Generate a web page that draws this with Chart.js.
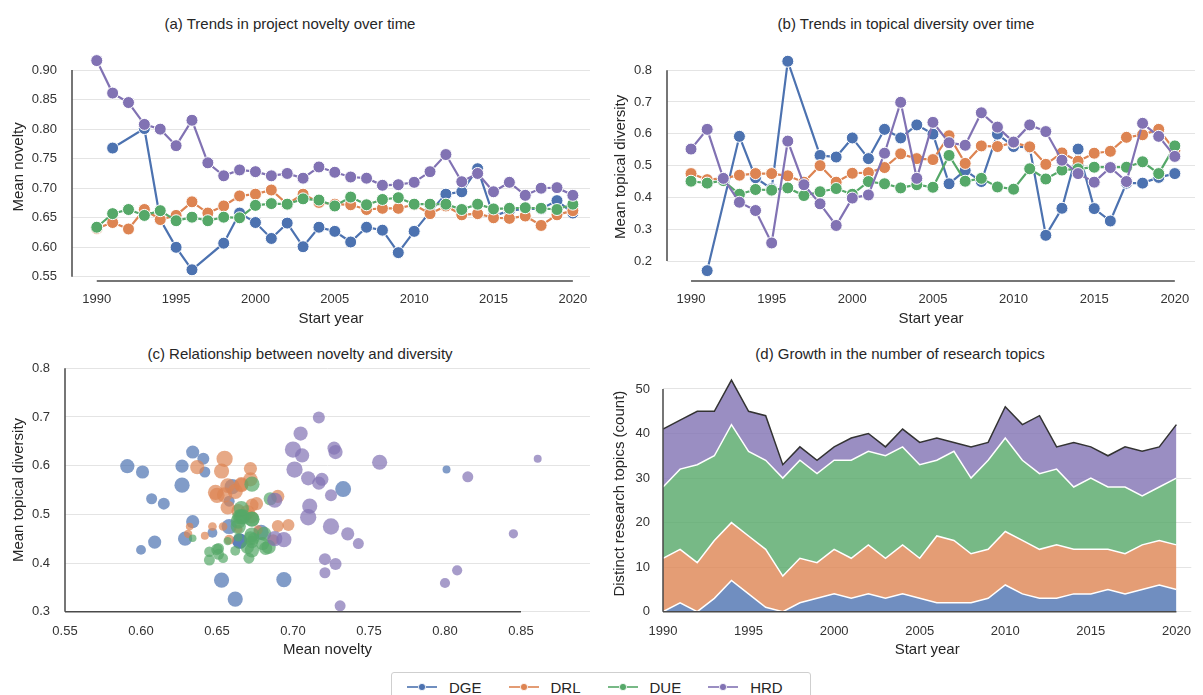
<!DOCTYPE html>
<html>
<head>
<meta charset="utf-8">
<script src="https://cdn.jsdelivr.net/npm/chart.js@4.4.1/dist/chart.umd.min.js"></script>
<style>
  body { margin: 0; width: 1203px; height: 695px; background: #fff; overflow: hidden;
         font-family: "Liberation Sans", Arial, sans-serif; position: relative; }
  canvas { position: absolute; }
  .ptitle { position: absolute; font-size: 15px; color: #262626; white-space: nowrap;
            transform: translate(-50%, -50%); }
  #legend { position: absolute; left: 391px; top: 672px; width: 420px; height: 30px;
            border: 1px solid #cfcfcf; border-radius: 3px; box-sizing: border-box;
            display: flex; align-items: center; padding-left: 15px; font-size: 15px; color: #262626; }
  #legend .item { display: flex; align-items: center; margin-right: 27px; }
  #legend svg { margin-right: 12px; }
</style>
</head>
<body>
<div class="ptitle" style="left:290px;top:23px">(a) Trends in project novelty over time</div>
<div class="ptitle" style="left:906px;top:23px">(b) Trends in topical diversity over time</div>
<div class="ptitle" style="left:300px;top:353px">(c) Relationship between novelty and diversity</div>
<div class="ptitle" style="left:900px;top:353px">(d) Growth in the number of research topics</div>

<canvas id="chartA" width="600" height="320" style="left:0;top:30px"></canvas>
<canvas id="chartB" width="603" height="320" style="left:600px;top:30px"></canvas>
<canvas id="chartC" width="600" height="330" style="left:0;top:340px"></canvas>
<canvas id="chartD" width="603" height="330" style="left:600px;top:340px"></canvas>
<div id="legend"></div>

<script>
const groups = ["DGE", "DRL", "DUE", "HRD"];
const years = [1990, 1991, 1992, 1993, 1994, 1995, 1996, 1997, 1998, 1999, 2000,
  2001, 2002, 2003, 2004, 2005, 2006, 2007, 2008, 2009, 2010,
  2011, 2012, 2013, 2014, 2015, 2016, 2017, 2018, 2019, 2020];

// (a) mean novelty
const noveltyDGE = [null, 0.768, null, 0.801, 0.647, 0.600, 0.562, null, 0.607, 0.658, 0.642,
  0.615, 0.641, 0.601, 0.634, 0.627, 0.609, 0.634, 0.629, 0.591, 0.627,
  0.660, 0.690, 0.694, 0.733, 0.653, 0.662, 0.665, 0.665, 0.679, 0.658];
const noveltyDRL = [0.632, 0.642, 0.631, 0.664, 0.647, 0.654, 0.677, 0.658, 0.670, 0.687, 0.690,
  0.697, 0.673, 0.690, 0.676, 0.673, 0.672, 0.664, 0.666, 0.666, 0.672,
  0.657, 0.670, 0.655, 0.657, 0.650, 0.649, 0.653, 0.637, 0.655, 0.662];
const noveltyDUE = [0.634, 0.657, 0.664, 0.654, 0.662, 0.645, 0.651, 0.645, 0.651, 0.650, 0.671,
  0.674, 0.673, 0.682, 0.680, 0.670, 0.685, 0.672, 0.681, 0.684, 0.673,
  0.673, 0.673, 0.664, 0.673, 0.665, 0.666, 0.667, 0.666, 0.664, 0.673];
const noveltyHRD = [0.916, 0.861, 0.845, 0.808, 0.800, 0.772, 0.815, 0.743, 0.721, 0.731, 0.728,
  0.721, 0.725, 0.717, 0.736, 0.727, 0.719, 0.717, 0.705, 0.706, 0.710,
  0.728, 0.757, 0.711, 0.725, 0.694, 0.710, 0.688, 0.700, 0.701, 0.688];

// (b) mean topical diversity
const diversityDGE = [null, 0.170, null, 0.592, 0.462, 0.427, 0.828, null, 0.532, 0.527, 0.587,
  0.522, 0.614, 0.587, 0.628, 0.599, 0.443, 0.485, 0.450, 0.599, 0.560,
  0.557, 0.281, 0.366, 0.552, 0.365, 0.326, 0.445, 0.445, 0.463, 0.475];
const diversityDRL = [0.475, 0.456, 0.460, 0.470, 0.475, 0.475, 0.468, 0.448, 0.500, 0.448, 0.476,
  0.478, 0.494, 0.537, 0.522, 0.519, 0.594, 0.507, 0.562, 0.560, 0.572,
  0.559, 0.504, 0.540, 0.514, 0.539, 0.545, 0.589, 0.597, 0.614, 0.547];
const diversityDUE = [0.451, 0.445, 0.453, 0.410, 0.425, 0.423, 0.430, 0.406, 0.418, 0.428, 0.410,
  0.450, 0.443, 0.430, 0.440, 0.432, 0.532, 0.451, 0.460, 0.433, 0.426,
  0.490, 0.458, 0.486, 0.490, 0.495, 0.495, 0.495, 0.512, 0.475, 0.562];
const diversityHRD = [0.552, 0.614, 0.460, 0.385, 0.359, 0.257, 0.577, 0.440, 0.380, 0.312, 0.398,
  0.408, 0.539, 0.699, 0.460, 0.636, 0.572, 0.564, 0.666, 0.621, 0.574,
  0.628, 0.607, 0.517, 0.475, 0.448, 0.494, 0.450, 0.633, 0.592, 0.529];

// (c) bubble size variable (projects per year)
const projectsDGE = [null, 10, null, 11, 17, 17, 17, null, 21, 21, 21,
  25, 25, 30, 30, 30, 30, 30, 35, 35, 40, 40, 40, 40, 44, 40, 40, 40, 40, 40, 40];
const projectsDRL = [10, 11, 12, 13, 13, 13, 15, 17, 19, 21, 25,
  25, 27, 30, 30, 30, 30, 33, 35, 35, 35, 38, 38, 40, 35, 40, 40, 40, 35, 46, 40];
const projectsDUE = [10, 12, 13, 17, 17, 19, 21, 21, 21, 23, 21,
  25, 27, 30, 30, 30, 30, 33, 35, 35, 35, 38, 38, 40, 40, 40, 40, 40, 40, 40, 40];
const projectsHRD = [10, 11, 15, 18, 18, 21, 21, 21, 21, 21, 25,
  25, 25, 25, 30, 30, 30, 30, 35, 35, 35, 35, 40, 40, 46, 40, 46, 40, 46, 46, 40];

// (d) distinct research topics
const topicsDGE = [0, 2, 0, 3, 7, 4, 1, 0, 2, 3, 4, 3, 4, 3, 4, 3, 2, 2, 2, 3, 6, 4, 3, 3, 4, 4, 5, 4, 5, 6, 5];
const topicsDRL = [12, 12, 11, 13, 13, 13, 13, 8, 10, 8, 10, 9, 11, 9, 11, 9, 15, 14, 11, 11, 12, 12, 11, 12, 10, 10, 9, 9, 10, 10, 10];
const topicsDUE = [16, 18, 22, 19, 22, 19, 20, 22, 22, 20, 20, 22, 21, 23, 22, 21, 17, 20, 17, 20, 21, 18, 17, 17, 14, 16, 14, 15, 11, 12, 15];
const topicsHRD = [13, 11, 12, 10, 10, 9, 10, 3, 3, 3, 3, 5, 4, 2, 4, 5, 5, 2, 7, 4, 7, 8, 13, 5, 10, 7, 7, 9, 10, 9, 12];

// tick labels
const yearTicks = [1990, 1995, 2000, 2005, 2010, 2015, 2020];
const noveltyTicks = [0.55, 0.60, 0.65, 0.70, 0.75, 0.80, 0.85, 0.90];
const diversityTicks = [0.2, 0.3, 0.4, 0.5, 0.6, 0.7, 0.8];
const scatterXTicks = [0.55, 0.60, 0.65, 0.70, 0.75, 0.80, 0.85];
const scatterYTicks = [0.3, 0.4, 0.5, 0.6, 0.7, 0.8];
const topicTicks = [0, 10, 20, 30, 40, 50];

const colors = ["#4C72B0", "#DD8452", "#55A868", "#8172B3"];
const alpha = (hex, a) => {
  const n = parseInt(hex.slice(1), 16);
  return `rgba(${n >> 16},${(n >> 8) & 255},${n & 255},${a})`;
};

const FONT = '"Liberation Sans", Arial, sans-serif';
Chart.defaults.font.family = FONT;
Chart.defaults.color = "#333";
Chart.defaults.animation = false;

// seaborn-like trimmed spines: run from first to last tick
const trimmedSpines = {
  id: "trimmedSpines",
  afterDatasetsDraw(chart) {
    const { ctx, chartArea, scales: { x, y } } = chart;
    const xt = x.ticks, yt = y.ticks;
    ctx.save();
    ctx.strokeStyle = "#4a4a4a";
    ctx.lineWidth = 1.5;
    ctx.beginPath();
    ctx.moveTo(chartArea.left, y.getPixelForValue(yt[0].value));
    ctx.lineTo(chartArea.left, y.getPixelForValue(yt[yt.length - 1].value));
    ctx.moveTo(x.getPixelForValue(xt[0].value), chartArea.bottom);
    ctx.lineTo(x.getPixelForValue(xt[xt.length - 1].value), chartArea.bottom);
    ctx.stroke();
    ctx.restore();
  },
};

function axes(o) {
  return {
    x: {
      type: "linear", min: o.xmin, max: o.xmax,
      afterBuildTicks: (s) => { s.ticks = o.xticks.map((v) => ({ value: v })); },
      afterFit: (s) => { s.height = o.xh; },
      ticks: { font: { size: 13 }, padding: o.xpad, maxRotation: 0, callback: o.xfmt },
      grid: { display: false, drawTicks: false },
      border: { display: false },
      title: { display: true, text: o.xtitle, font: { size: 15 }, color: "#262626",
               padding: { top: 0, bottom: o.xtpad } },
    },
    y: {
      type: "linear", min: o.ymin, max: o.ymax, stacked: !!o.stacked,
      afterBuildTicks: (s) => { s.ticks = o.yticks.map((v) => ({ value: v })); },
      afterFit: (s) => { s.width = o.yw; },
      ticks: { font: { size: 13 }, padding: o.ypad, callback: o.yfmt },
      grid: { color: "#e4e4e4", lineWidth: 1, drawTicks: false },
      border: { display: false },
      title: { display: true, text: o.ytitle, font: { size: 15 }, color: "#262626",
               padding: { top: o.ytpad, bottom: 0 } },
    },
  };
}

function lineSets(valueLists) {
  return groups.map((g, i) => ({
    label: g,
    data: years.map((yr, k) => ({ x: yr, y: valueLists[i][k] })),
    borderColor: colors[i],
    backgroundColor: colors[i],
    pointBackgroundColor: colors[i],
    pointBorderColor: "#fff",
    pointBorderWidth: 1,
    pointRadius: 6,
    borderWidth: 2.2,
    spanGaps: true,
    clip: false,
    order: 4 - i,
  }));
}

const baseOpts = (pad) => ({
  responsive: false,
  layout: { padding: pad },
  plugins: { legend: { display: false }, tooltip: { enabled: false } },
});

// (a)
new Chart(document.getElementById("chartA"), {
  type: "line",
  data: { datasets: lineSets([noveltyDGE, noveltyDRL, noveltyDUE, noveltyHRD]) },
  options: {
    ...baseOpts({ left: 0, right: 10, top: 10, bottom: 0 }),
    scales: axes({
      xmin: 1988.44, xmax: 2021.08, xticks: yearTicks, xh: 69, xpad: 11,
      xfmt: (v) => String(v), xtitle: "Start year", xtpad: 22,
      ymin: 0.543, ymax: 0.9292, yticks: noveltyTicks, yw: 72, ypad: 15,
      yfmt: (v) => v.toFixed(2), ytitle: "Mean novelty", ytpad: 10,
    }),
  },
  plugins: [trimmedSpines],
});

// (b)
new Chart(document.getElementById("chartB"), {
  type: "line",
  data: { datasets: lineSets([diversityDGE, diversityDRL, diversityDUE, diversityHRD]) },
  options: {
    ...baseOpts({ left: 0, right: 8, top: 10, bottom: 0 }),
    scales: axes({
      xmin: 1988.51, xmax: 2021.25, xticks: yearTicks, xh: 69, xpad: 11,
      xfmt: (v) => String(v), xtitle: "Start year", xtpad: 22,
      ymin: 0.1375, ymax: 0.8545, yticks: diversityTicks, yw: 67, ypad: 15,
      yfmt: (v) => v.toFixed(1), ytitle: "Mean topical diversity", ytpad: 12,
    }),
  },
  plugins: [trimmedSpines],
});

// (c) novelty vs diversity, bubble size = projects
const novelty = [noveltyDGE, noveltyDRL, noveltyDUE, noveltyHRD];
const diversity = [diversityDGE, diversityDRL, diversityDUE, diversityHRD];
const projects = [projectsDGE, projectsDRL, projectsDUE, projectsHRD];
new Chart(document.getElementById("chartC"), {
  type: "bubble",
  data: {
    datasets: groups.map((g, i) => ({
      label: g,
      data: years
        .map((yr, k) => ({ x: novelty[i][k], y: diversity[i][k], r: projects[i][k] == null ? 0 : 1.2 * Math.sqrt(projects[i][k]) }))
        .filter((p) => p.x != null && p.y != null),
      backgroundColor: alpha(colors[i], 0.7),
      borderWidth: 0,
      hoverRadius: 0,
      clip: 0,
      order: 4 - i,
    })),
  },
  options: {
    ...baseOpts({ left: 0, right: 10, top: 28.3, bottom: 0 }),
    scales: axes({
      xmin: 0.55, xmax: 0.8954, xticks: scatterXTicks, xh: 58.3, xpad: 12,
      xfmt: (v) => v.toFixed(2), xtitle: "Mean novelty", xtpad: 11,
      ymin: 0.3, ymax: 0.8, yticks: scatterYTicks, yw: 65, ypad: 15,
      yfmt: (v) => v.toFixed(1), ytitle: "Mean topical diversity", ytpad: 10,
    }),
  },
  plugins: [trimmedSpines],
});

// (d) stacked areas
const topics = [topicsDGE, topicsDRL, topicsDUE, topicsHRD];
new Chart(document.getElementById("chartD"), {
  type: "line",
  data: {
    datasets: groups.map((g, i) => ({
      label: g,
      data: years.map((yr, k) => ({ x: yr, y: topics[i][k] })),
      fill: i === 0 ? "origin" : "-1",
      backgroundColor: alpha(colors[i], 0.8),
      borderColor: i === 3 ? "#333" : "#fff",
      borderWidth: 1.5,
      pointRadius: 0,
      tension: 0,
    })),
  },
  options: {
    ...baseOpts({ left: 0, right: 5, top: 35.6, bottom: 0 }),
    scales: axes({
      xmin: 1990, xmax: 2020.87, xticks: yearTicks, xh: 58.3, xpad: 12,
      xfmt: (v) => String(v), xtitle: "Start year", xtpad: 11,
      ymin: 0, ymax: 53, yticks: topicTicks, yw: 63, ypad: 13, stacked: true,
      yfmt: (v) => String(v), ytitle: "Distinct research topics (count)", ytpad: 11,
    }),
  },
  plugins: [trimmedSpines],
});

// shared legend
const legend = document.getElementById("legend");
groups.forEach((g, i) => {
  const item = document.createElement("div");
  item.className = "item";
  item.innerHTML =
    `<svg width="30" height="10"><line x1="0" y1="5" x2="30" y2="5" stroke="${colors[i]}" stroke-width="1.6"/>` +
    `<circle cx="15" cy="5" r="3.6" fill="${colors[i]}" stroke="#fff" stroke-width="0.8"/></svg><span>${g}</span>`;
  legend.appendChild(item);
});
</script>
</body>
</html>
